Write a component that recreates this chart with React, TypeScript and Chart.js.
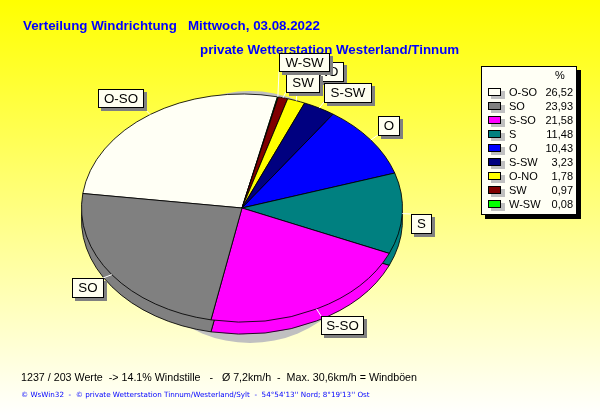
import React, { useEffect, useRef } from "react";
import { Chart, registerables } from "chart.js";

Chart.register(...registerables);

// Pie order, clockwise from the left edge of the first slice
const categories = ["O-SO", "W-SW", "SW", "O-NO", "S-SW", "O", "S", "S-SO", "SO"];
const shares = [26.52, 0.08, 0.97, 1.78, 3.23, 10.43, 11.48, 21.58, 23.93];
const sliceColors = ["#FFFFF5", "#00FF00", "#800000", "#FFFF00", "#000080", "#0000FF", "#008080", "#FF00FF", "#808080"];

// Legend order
const legendCategories = ["O-SO", "SO", "S-SO", "S", "O", "S-SW", "O-NO", "SW", "W-SW"];
const legendValues = ["26,52", "23,93", "21,58", "11,48", "10,43", "3,23", "1,78", "0,97", "0,08"];

const titleLine1 = "Verteilung Windrichtung   Mittwoch, 03.08.2022";
const titleLine2 = "private Wetterstation Westerland/Tinnum";
const statsLine = "1237 / 203 Werte  -> 14.1% Windstille   -   Ø 7,2km/h  -  Max. 30,6km/h = Windböen";
const footerLine = "© WsWin32  -  © private Wetterstation Tinnum/Westerland/Sylt  -  54°54'13'' Nord; 8°19'13'' Ost";

const W = 600, H = 415;
const CX = 242, CY = 208, RX = 160.5, RY = 114, DEPTH = 12;

// box: x0,y0,x1,y1; anchor: where the leader meets the box. Draw order is back to front.
const calloutLayout: Record<string, { box: number[]; anchor: number[] }> = {
  "O-SO": { box: [98, 89, 143, 107], anchor: [143, 107] },
  "O-NO": { box: [298, 62, 343, 81], anchor: [298, 81] },
  "S-SW": { box: [324, 83, 371, 102], anchor: [324, 102] },
  "SW": { box: [286, 73, 319, 92], anchor: [286, 92] },
  "W-SW": { box: [279, 53, 329, 71], anchor: [279, 71] },
  "O": { box: [378, 116, 399, 135], anchor: [378, 135] },
  "S": { box: [411, 214, 431, 233], anchor: [411, 214] },
  "S-SO": { box: [321, 316, 363, 334], anchor: [321, 316] },
  "SO": { box: [72, 278, 103, 297], anchor: [103, 278] },
};

const piePlugin = {
  id: "pie3d",
  beforeDatasetsDraw(chart: any) {
    const ctx: CanvasRenderingContext2D = chart.ctx;
    const arcs = chart.getDatasetMeta(0).data;
    const c = { x: arcs[0].x, y: arcs[0].y };
    // grey shadow behind the pie
    ctx.save();
    ctx.fillStyle = "#C0C0C0";
    ctx.beginPath();
    ctx.ellipse(250, 217, 125, 126, 0, 0, Math.PI * 2);
    ctx.fill();
    ctx.restore();
    // wall: the same slices pushed down
    ctx.save();
    ctx.translate(c.x, c.y + DEPTH);
    ctx.scale(1, RY / RX);
    ctx.translate(-c.x, -c.y);
    arcs.forEach((a: any) => a.draw(ctx));
    ctx.restore();
    // top face transform for the library's own dataset draw
    ctx.save();
    ctx.translate(c.x, c.y);
    ctx.scale(1, RY / RX);
    ctx.translate(-c.x, -c.y);
  },
  afterDatasetsDraw(chart: any) {
    chart.ctx.restore();
  },
};

const textPlugin = {
  id: "texts",
  beforeDraw(chart: any) {
    const ctx: CanvasRenderingContext2D = chart.ctx;
    ctx.save();
    ctx.textBaseline = "alphabetic";
    ctx.textAlign = "left";
    ctx.fillStyle = "#0000FF";
    ctx.font = 'bold 13.33px "Liberation Sans"';
    ctx.fillText(titleLine1, 23, 30);
    ctx.fillText(titleLine2, 200, 54);
    ctx.fillStyle = "#000000";
    ctx.font = '10.7px "Liberation Sans"';
    ctx.fillText(statsLine, 21, 381);
    ctx.fillStyle = "#0000FF";
    ctx.font = '7.2px "DejaVu Sans"';
    ctx.fillText(footerLine, 21, 397);
    ctx.restore();
  },
  afterDraw(chart: any) {
    const ctx: CanvasRenderingContext2D = chart.ctx;
    const arcs = chart.getDatasetMeta(0).data;
    ctx.save();
    // leaders
    ctx.strokeStyle = "#FFFFFF";
    ctx.lineWidth = 1;
    Object.keys(calloutLayout).forEach((name) => {
      const a = arcs[categories.indexOf(name)];
      const mid = (a.startAngle + a.endAngle) / 2;
      const { anchor } = calloutLayout[name];
      ctx.beginPath();
      ctx.moveTo(a.x + RX * Math.cos(mid), a.y + RY * Math.sin(mid));
      ctx.lineTo(anchor[0], anchor[1]);
      ctx.stroke();
    });
    // callout boxes
    Object.keys(calloutLayout).forEach((name) => {
      const [x0, y0, x1, y1] = calloutLayout[name].box;
      ctx.fillStyle = "#808080";
      ctx.fillRect(x0 + 3, y0 + 3, x1 - x0 + 1, y1 - y0 + 1);
      ctx.fillStyle = "#FFFFF0";
      ctx.fillRect(x0, y0, x1 - x0, y1 - y0);
      ctx.strokeStyle = "#000000";
      ctx.strokeRect(x0 + 0.5, y0 + 0.5, x1 - x0, y1 - y0);
      ctx.fillStyle = "#000000";
      ctx.textAlign = "center";
      ctx.textBaseline = "middle";
      ctx.font = '13.33px "Liberation Sans"';
      ctx.fillText(name, (x0 + x1) / 2 + 0.5, (y0 + y1) / 2 + 1);
    });
    // legend
    ctx.fillStyle = "#000000";
    ctx.fillRect(485, 70, 96, 149);
    ctx.fillStyle = "#FFFFF5";
    ctx.fillRect(481, 66, 96, 149);
    ctx.strokeStyle = "#000000";
    ctx.strokeRect(481.5, 66.5, 95, 148);
    ctx.font = '11px "Liberation Sans"';
    ctx.textBaseline = "middle";
    ctx.fillStyle = "#000000";
    ctx.textAlign = "center";
    ctx.fillText("%", 560, 76);
    legendCategories.forEach((name, i) => {
      const y = 92 + i * 14;
      ctx.fillStyle = "#C0C0C0";
      ctx.fillRect(491, y - 1, 14, 8);
      ctx.fillStyle = sliceColors[categories.indexOf(name)];
      ctx.fillRect(488, y - 4, 13, 7);
      ctx.strokeStyle = "#000000";
      ctx.strokeRect(488.5, y - 3.5, 12, 7);
      ctx.fillStyle = "#000000";
      ctx.textAlign = "left";
      ctx.fillText(name, 509, y + 0.5);
      ctx.textAlign = "right";
      ctx.fillText(legendValues[i], 573, y + 0.5);
    });
    ctx.restore();
  },
};

export default function App() {
  const ref = useRef<HTMLCanvasElement>(null);
  useEffect(() => {
    document.body.style.margin = "0";
    const chart = new Chart(ref.current!, {
      type: "pie",
      data: {
        labels: categories,
        datasets: [{ data: shares, backgroundColor: sliceColors, borderColor: "#000000", borderWidth: 1 }],
      },
      options: {
        responsive: false,
        animation: false,
        rotation: 277.3,
        layout: { padding: { left: CX - RX - 0.5, right: W - CX - RX - 0.5, top: CY - RX - 0.5, bottom: H - CY - RX - 0.5 } },
        plugins: { legend: { display: false }, tooltip: { enabled: false } },
      },
      plugins: [textPlugin, piePlugin],
    } as any);
    return () => chart.destroy();
  }, []);
  return (
    <canvas
      ref={ref}
      width={W}
      height={H}
      style={{ display: "block", width: W, height: H, background: "linear-gradient(180deg,#FFFF00 0%,#FFFFFF 100%)" }}
    />
  );
}
